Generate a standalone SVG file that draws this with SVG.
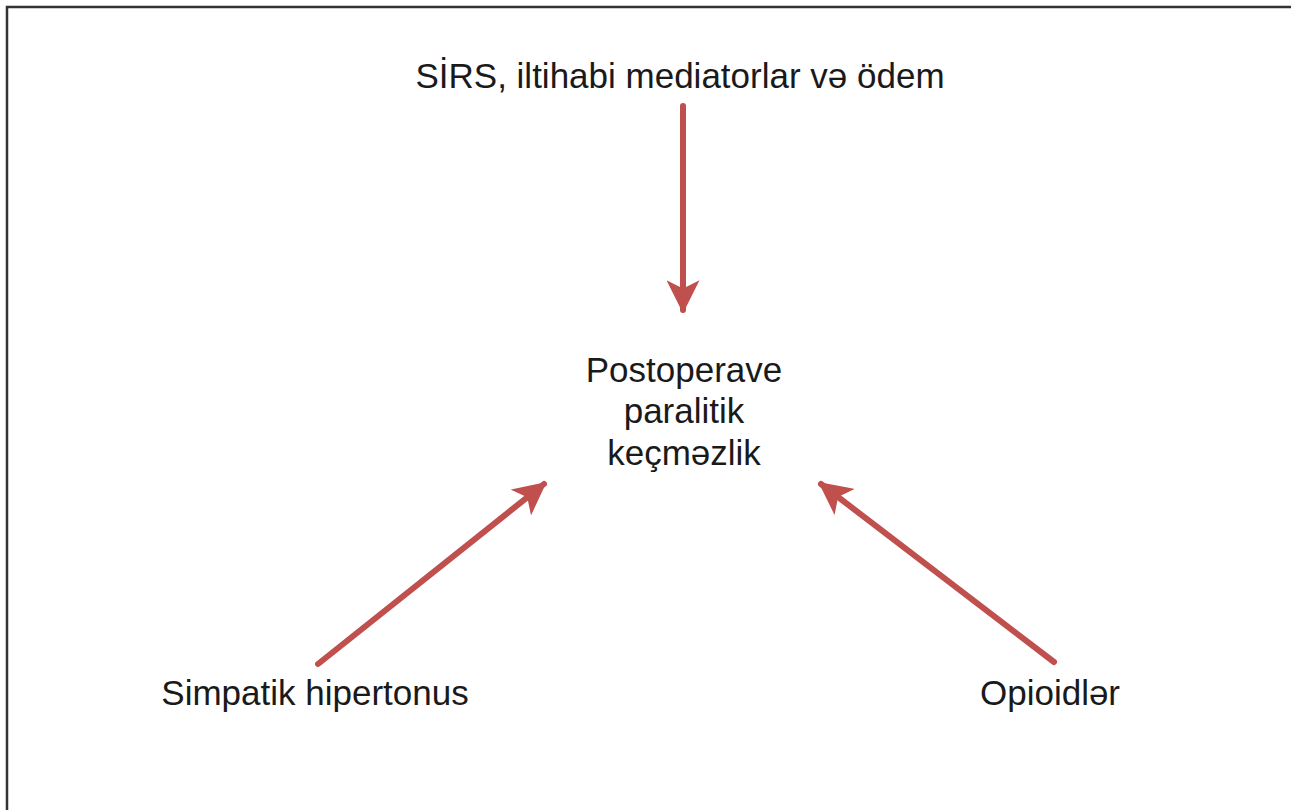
<svg xmlns="http://www.w3.org/2000/svg" width="1291" height="810" viewBox="0 0 1291 810">
<style>
.t{font-family:"Liberation Sans",Arial,sans-serif;font-size:35px;fill:#1a1a1a;text-anchor:middle}
.c{stroke:#c0504d;stroke-width:6;fill:none;stroke-linecap:round}
</style>
<defs>
<marker id="ah" viewBox="0 0 10 10" refX="9" refY="5" markerWidth="5.5" markerHeight="5.5" markerUnits="strokeWidth" orient="auto">
<path d="M0,0 L10,5 L0,10 L2.5,5 Z" fill="#c0504d"/>
</marker>
</defs>
<rect width="1291" height="810" fill="#fff"/>
<path d="M7,810 V7 H1291" stroke="#333" stroke-width="2.5" fill="none"/>
<g id="connectors">
<line class="c" x1="683" y1="106" x2="683" y2="310" marker-end="url(#ah)"/>
<line class="c" x1="318" y1="664" x2="544" y2="484" marker-end="url(#ah)"/>
<line class="c" x1="1054" y1="662" x2="821" y2="484" marker-end="url(#ah)"/>
</g>
<g id="n-sirs"><text class="t" x="680" y="88">SİRS, iltihabi mediatorlar və ödem</text></g>
<g id="n-center"><text class="t" x="684" y="382">Postoperave</text><text class="t" x="684" y="423">paralitik</text><text class="t" x="684" y="465">keçməzlik</text></g>
<g id="n-simpatik"><text class="t" x="315" y="705">Simpatik hipertonus</text></g>
<g id="n-opioid"><text class="t" x="1050" y="705">Opioidlər</text></g>
</svg>
